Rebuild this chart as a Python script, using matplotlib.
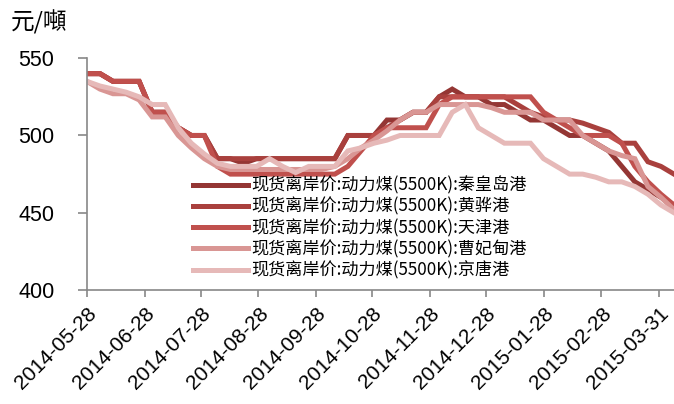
import datetime
import numpy as np
import matplotlib
matplotlib.use("Agg")
import matplotlib.pyplot as plt
import matplotlib.dates as mdates

plt.rcParams['font.family'] = ['Liberation Sans', 'Noto Sans CJK SC']

# 週次データ 2014-05-28 から 46 週
start = datetime.date(2014, 5, 28)
dates = [start + datetime.timedelta(days=7 * i) for i in range(46)]

names = ["现货离岸价:动力煤(5500K):秦皇岛港",
         "现货离岸价:动力煤(5500K):黄骅港",
         "现货离岸价:动力煤(5500K):天津港",
         "现货离岸价:动力煤(5500K):曹妃甸港",
         "现货离岸价:动力煤(5500K):京唐港"]
colors = ["#943634", "#A9403D", "#C0504D", "#D99694", "#E6B9B8"]

qhd = [540, 540, 535, 535, 535, 515, 515, 505, 500, 500,
       485, 485, 482, 485, 485, 485, 485, 485, 485, 485,
       500, 500, 500, 510, 510, 515, 515, 525, 530, 525,
       525, 520, 520, 515, 510, 510, 505, 500, 500, 495,
       490, 480, 470, 465, 460, 455]
hh = [540, 540, 535, 535, 535, 515, 515, 505, 500, 500,
      485, 485, 485, 485, 485, 485, 485, 485, 485, 485,
      500, 500, 500, 505, 510, 515, 515, 525, 525, 525,
      525, 525, 525, 520, 515, 512, 510, 510, 508, 505,
      502, 495, 495, 483, 480, 475]
tj = [540, 540, 535, 535, 535, 515, 515, 505, 500, 500,
      480, 475, 475, 475, 475, 475, 475, 475, 475, 475,
      480, 490, 500, 505, 505, 505, 505, 520, 525, 525,
      525, 525, 525, 525, 525, 515, 510, 505, 500, 500,
      500, 495, 480, 470, 462, 455]
cfd = [535, 530, 527, 527, 523, 512, 512, 500, 492, 485,
       480, 478, 478, 478, 478, 478, 478, 478, 478, 480,
       485, 492, 497, 503, 510, 515, 515, 520, 520, 520,
       520, 518, 515, 515, 515, 510, 510, 510, 500, 495,
       490, 487, 485, 467, 460, 452]
jt = [535, 532, 530, 528, 525, 520, 520, 505, 495, 488,
      482, 480, 480, 480, 485, 480, 476, 480, 480, 480,
      490, 492, 495, 497, 500, 500, 500, 500, 515, 520,
      505, 500, 495, 495, 495, 485, 480, 475, 475, 473,
      470, 470, 467, 462, 455, 450]
series = [qhd, hh, tj, cfd, jt]

tick_dates = ["2014-05-28", "2014-06-28", "2014-07-28", "2014-08-28",
              "2014-09-28", "2014-10-28", "2014-11-28", "2014-12-28",
              "2015-01-28", "2015-02-28", "2015-03-31"]

fig = plt.figure(figsize=(6.74, 4.04), dpi=100)
ax = fig.add_axes([0.129, 0.282, 0.871, 0.574])

for name, vals, c in zip(names, series, colors):
    ax.plot(dates, vals, color=c, lw=3.6, label=name, solid_joinstyle="miter")

ax.set_ylim(400, 550)
ax.set_yticks([400, 450, 500, 550])
ax.set_xlim(dates[0], dates[-1])
ticks = [datetime.datetime.strptime(t, "%Y-%m-%d") for t in tick_dates]
ax.set_xticks(ticks)
ax.set_xticklabels(tick_dates, rotation=45, ha="right", rotation_mode="anchor")
ax.tick_params(axis="y", labelsize=15.5, length=6.5, color="#888888", width=1.2,
               pad=17)
ax.tick_params(axis="x", labelsize=15, length=5, color="#888888", width=1.2,
               pad=5)
for s in ["top", "right"]:
    ax.spines[s].set_visible(False)
for s in ["left", "bottom"]:
    ax.spines[s].set_color("#888888")
    ax.spines[s].set_linewidth(1.2)

fig.text(0.016, 0.945, "元/噸", fontsize=17, va="center",
         family=["Noto Sans CJK SC"])

leg = ax.legend(loc="upper left", bbox_to_anchor=(0.274, 0.585),
                bbox_transform=fig.transFigure, frameon=False,
                prop={"family": ["Noto Sans CJK SC"], "size": 12.3},
                handlelength=3.2, handletextpad=0.2, labelspacing=0.18,
                borderpad=0)

fig.savefig("out.png", dpi=100)
